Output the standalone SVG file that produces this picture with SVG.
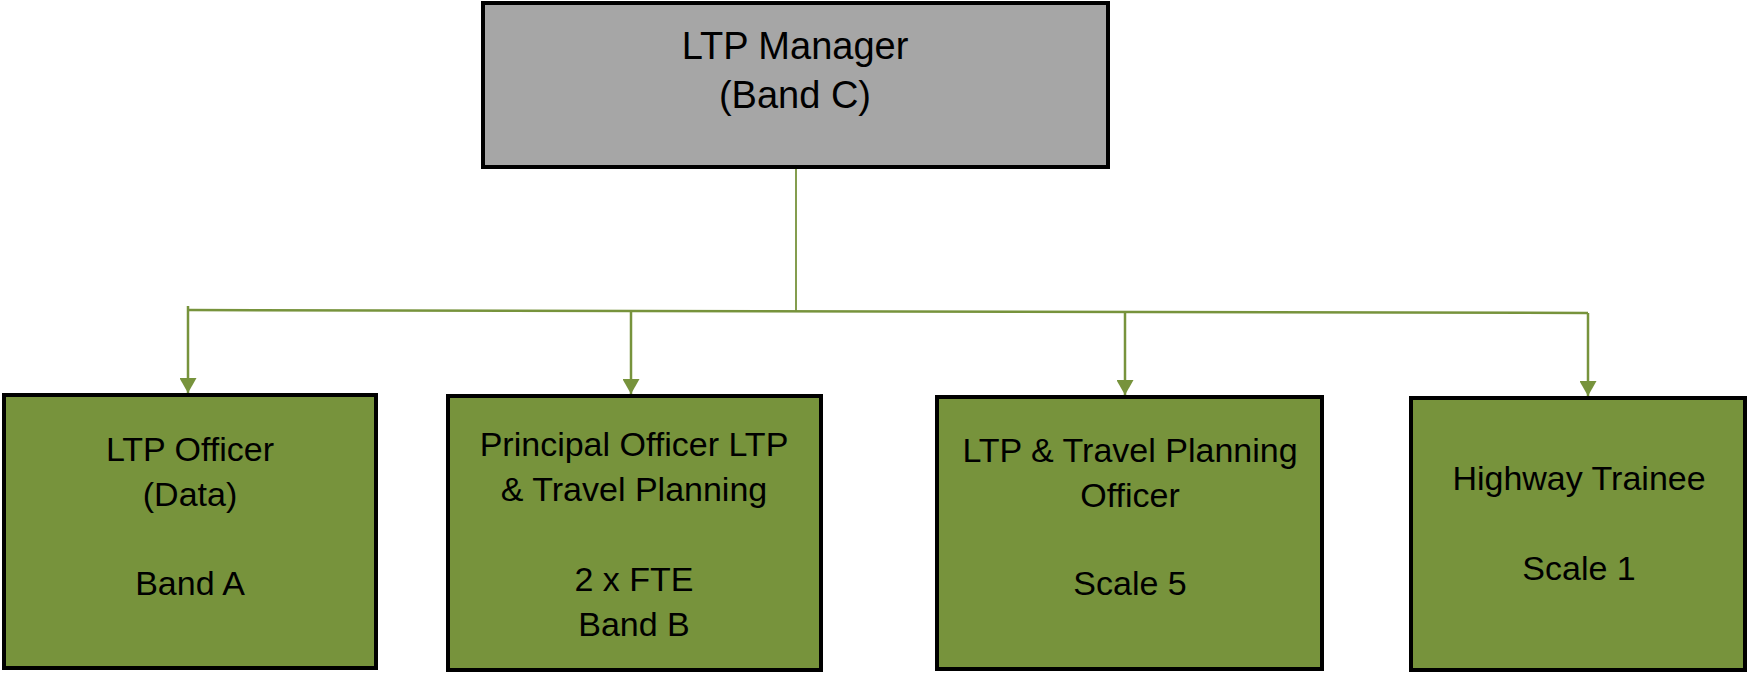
<svg xmlns="http://www.w3.org/2000/svg" width="1748" height="673" viewBox="0 0 1748 673">
<style>
.box{stroke:#000;stroke-width:4}
.mgr{fill:#a6a6a6}
.grn{fill:#77933c}
.t{font-family:"Liberation Sans",Arial,sans-serif;font-size:34px;fill:#000;text-anchor:middle}
.tm{font-size:38px}
.c{stroke:#77933c;stroke-width:2.5;fill:none}
.c1{stroke:#77933c;stroke-width:1.8;fill:none}
</style>
<defs>
<marker id="ah" markerUnits="userSpaceOnUse" markerWidth="18" markerHeight="17" refX="15" refY="8.5" orient="auto">
<path d="M0,0 L15,8.5 L0,17 z" fill="#77933c"/>
</marker>
</defs>
<rect width="1748" height="673" fill="#fff"/>
<g id="connectors">
<line class="c1" x1="796" y1="167" x2="796" y2="311"/>
<line class="c" x1="188" y1="310" x2="1588" y2="313"/>
<line class="c" x1="188" y1="306" x2="188" y2="393" marker-end="url(#ah)"/>
<line class="c" x1="631" y1="311" x2="631" y2="394" marker-end="url(#ah)"/>
<line class="c" x1="1125" y1="312" x2="1125" y2="395" marker-end="url(#ah)"/>
<line class="c" x1="1588" y1="313" x2="1588" y2="396" marker-end="url(#ah)"/>
</g>
<g id="ltp-manager">
<rect class="box mgr" x="483" y="3" width="625" height="164"/>
<text class="t tm" x="795" y="59">LTP Manager</text>
<text class="t tm" x="795" y="108">(Band C)</text>
</g>
<g id="ltp-officer">
<rect class="box grn" x="4" y="395" width="372" height="273"/>
<text class="t" x="190" y="461">LTP Officer</text>
<text class="t" x="190" y="506">(Data)</text>
<text class="t" x="190" y="595">Band A</text>
</g>
<g id="principal-officer">
<rect class="box grn" x="448" y="396" width="373" height="274"/>
<text class="t" x="634" y="456">Principal Officer LTP</text>
<text class="t" x="634" y="501">&amp; Travel Planning</text>
<text class="t" x="634" y="591">2 x FTE</text>
<text class="t" x="634" y="636">Band B</text>
</g>
<g id="travel-planning-officer">
<rect class="box grn" x="937" y="397" width="385" height="272"/>
<text class="t" x="1130" y="462">LTP &amp; Travel Planning</text>
<text class="t" x="1130" y="507">Officer</text>
<text class="t" x="1130" y="595">Scale 5</text>
</g>
<g id="highway-trainee">
<rect class="box grn" x="1411" y="398" width="334" height="272"/>
<text class="t" x="1579" y="490">Highway Trainee</text>
<text class="t" x="1579" y="580">Scale 1</text>
</g>
</svg>
